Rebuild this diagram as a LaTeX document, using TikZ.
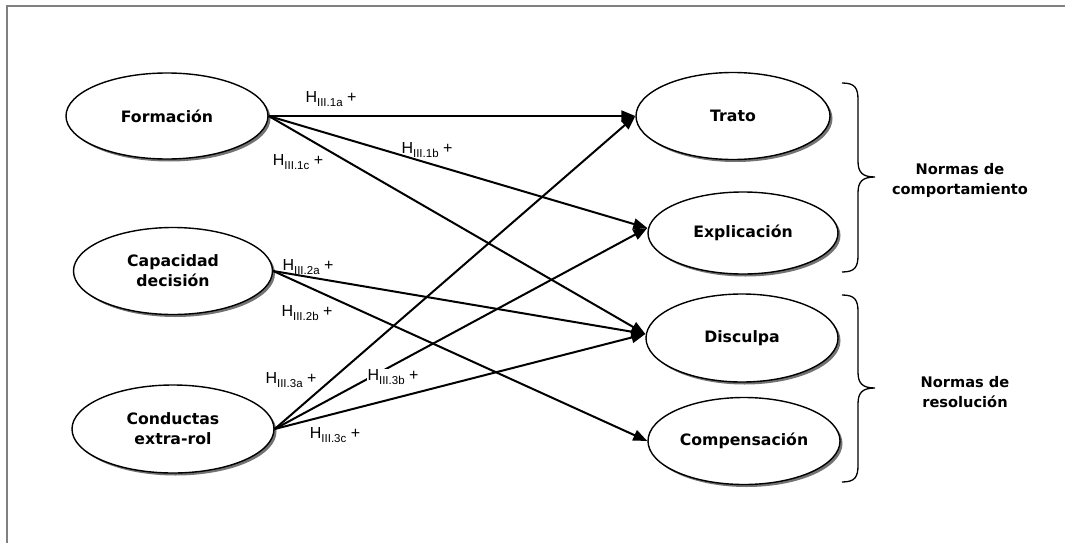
\documentclass[tikz,border=0pt]{standalone}
\usepackage{fontspec}
\setmainfont{Liberation Sans}
\newfontfamily\nodefont{DejaVu Sans}
\usetikzlibrary{shapes.geometric,arrows.meta,shadows}
\newcommand{\hyp}[1]{H\raisebox{-0.22em}{\fontsize{11.5}{11.5}\selectfont III.#1} +}
\tikzset{
  ell/.style={ellipse, draw, line width=1.4pt, fill=white, inner sep=0pt,
    font=\nodefont\bfseries\fontsize{15.7}{20}\selectfont, align=center,
    drop shadow={shadow xshift=2.5pt, shadow yshift=-2.5pt, fill=black!55, opacity=1}},
  lab/.style={font=\fontsize{16}{17}\selectfont, inner sep=0pt},
  grp/.style={font=\nodefont\bfseries\fontsize{14.6}{20}\selectfont, align=center},
  arr/.style={line width=2pt, -{Triangle[length=14pt,width=11pt]}},
  brc/.style={line width=1.3pt}
}
\begin{document}
\begin{tikzpicture}[x=1pt,y=-1pt]
\useasboundingbox (0,0) rectangle (1065,543);
\draw[line width=2pt, black!50] (7,560) -- (7,6) -- (1080,6);
% source nodes
\node[ell, minimum width=202pt, minimum height=86pt] (form) at (167,116) {Formación};
\node[ell, minimum width=199pt, minimum height=87pt] (cap) at (173,271) {Capacidad\\decisión};
\node[ell, minimum width=202pt, minimum height=88pt] (cond) at (173,429) {Conductas\\extra-rol};
% target nodes
\node[ell, minimum width=194pt, minimum height=87pt] (trato) at (733,116) {Trato};
\node[ell, minimum width=190pt, minimum height=82pt] (expl) at (743,233) {Explicación};
\node[ell, minimum width=192pt, minimum height=88pt] (disc) at (742,338) {Disculpa};
\node[ell, minimum width=192pt, minimum height=87pt] (comp) at (744,441) {Compensación};
% arrows
\draw[arr] (form.east) -- (trato.west);
\draw[arr] (form.east) -- ([yshift=5pt]expl.west);
\draw[arr] (form.east) -- ([yshift=4pt]disc.west);
\draw[arr] (cap.east) -- ([yshift=4pt]disc.west);
\draw[arr] (cap.east) -- (comp.west);
\draw[arr] (cond.east) -- (trato.west);
\draw[arr] (cond.east) -- ([yshift=5pt]expl.west);
\draw[arr] (cond.east) -- ([yshift=4pt]disc.west);
% labels
\node[lab] (h1a) at (331,99) {\hyp{1a}};
\node[lab] (h1b) at (427,150) {\hyp{1b}};
\node[lab] (h1c) at (298,162) {\hyp{1c}};
\node[lab] (h2a) at (308,267) {\hyp{2a}};
\node[lab] (h2b) at (307,313) {\hyp{2b}};
\node[lab] (h3a) at (291,380) {\hyp{3a}};
\node[lab, fill=white, inner sep=1pt] (h3b) at (393,377) {\hyp{3b}};
\node[lab] (h3c) at (335,435) {\hyp{3c}};
% braces
\draw[brc] (842,83) .. controls (855,83) and (858,88) .. (858,100) -- (858,161)
  .. controls (858,172) and (862,177) .. (875,177)
  .. controls (862,177) and (858,182) .. (858,193) -- (858,255)
  .. controls (858,267) and (855,272) .. (842,272);
\draw[brc] (842,295) .. controls (855,295) and (858,300) .. (858,312) -- (858,372)
  .. controls (858,383) and (862,388) .. (875,388)
  .. controls (862,388) and (858,393) .. (858,404) -- (858,465)
  .. controls (858,477) and (855,482) .. (842,482);
\node[grp] (g1) at (960,180) {Normas de\\comportamiento};
\node[grp] (g2) at (965,392) {Normas de\\resolución};
\end{tikzpicture}
\end{document}
